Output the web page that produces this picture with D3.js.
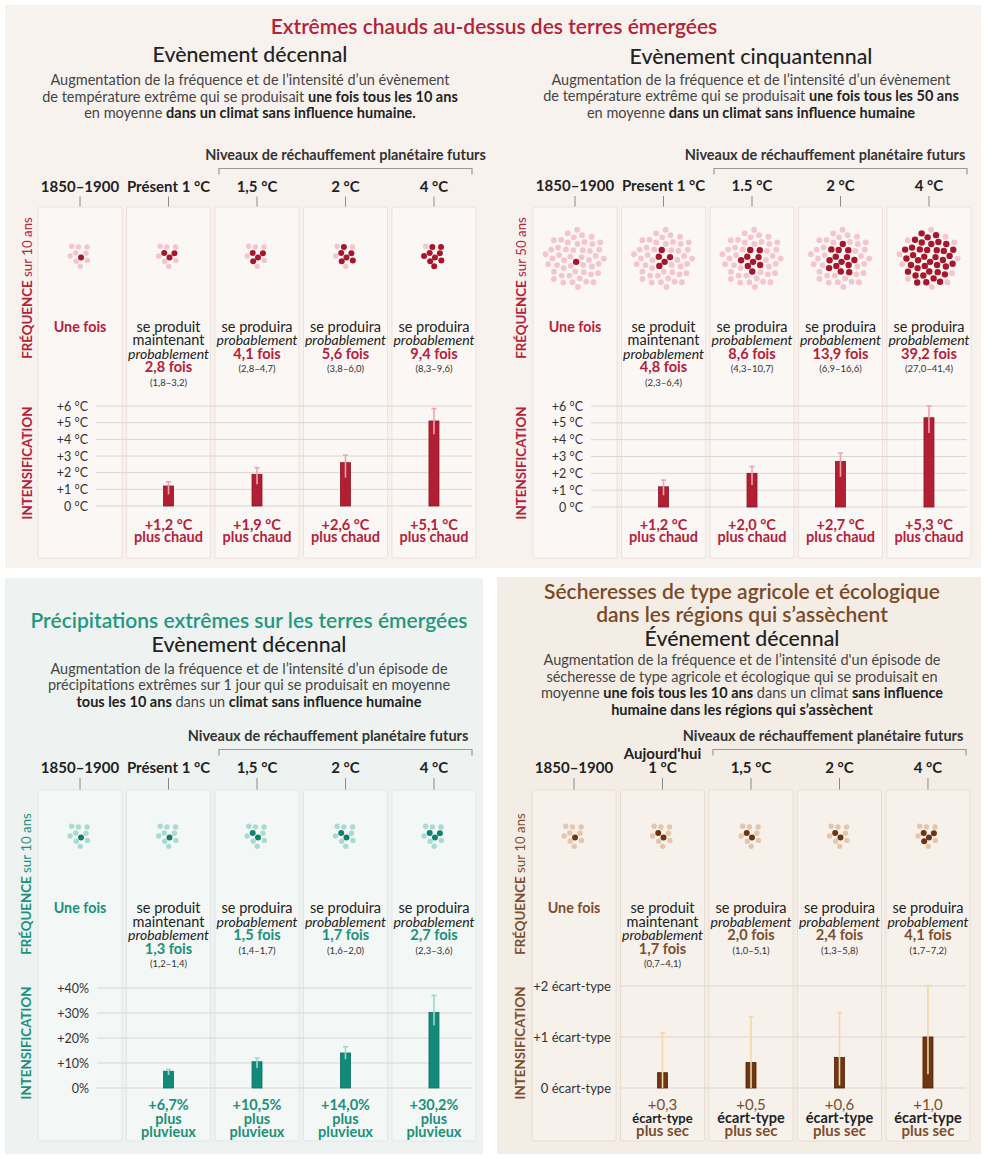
<!DOCTYPE html>
<html>
<head>
<meta charset="utf-8">
<script src="https://cdn.jsdelivr.net/npm/d3@7"></script>
<style>
  body { margin: 0; background: #fff; }
  svg { display: block; font-family: Lato, "Open Sans", sans-serif; }
</style>
</head>
<body>
<svg id="chart"></svg>
<script>
// ---- data ----
const heat10Cols = ["1850–1900", "Présent 1 °C", "1,5 °C", "2 °C", "4 °C"];
const heat50Cols = ["1850–1900", "Present 1 °C", "1.5 °C", "2 °C", "4 °C"];
const rainCols = ["1850–1900", "Présent 1 °C", "1,5 °C", "2 °C", "4 °C"];
const droughtCols = ["1850–1900", "1 °C", "1,5 °C", "2 °C", "4 °C"];

const heat10Freq = [1, 2.8, 4.1, 5.6, 9.4];
const heat10FreqLow = [null, 1.8, 2.8, 3.8, 8.3];
const heat10FreqHigh = [null, 3.2, 4.7, 6.0, 9.6];
const heat10Dark = [1, 3, 4, 6, 9];
const heat10Int = [null, 1.2, 1.9, 2.6, 5.1];
const heat10IntLow = [null, 0.7, 1.3, 1.7, 4.3];
const heat10IntHigh = [null, 1.45, 2.3, 3.05, 5.85];

const heat50Freq = [1, 4.8, 8.6, 13.9, 39.2];
const heat50FreqLow = [null, 2.3, 4.3, 6.9, 27.0];
const heat50FreqHigh = [null, 6.4, 10.7, 16.6, 41.4];
const heat50Dark = [1, 5, 9, 14, 39];
const heat50Int = [null, 1.2, 2.0, 2.7, 5.3];
const heat50IntLow = [null, 0.7, 1.3, 1.8, 4.4];
const heat50IntHigh = [null, 1.6, 2.4, 3.2, 6.0];

const rainFreq = [1, 1.3, 1.5, 1.7, 2.7];
const rainFreqLow = [null, 1.2, 1.4, 1.6, 2.3];
const rainFreqHigh = [null, 1.4, 1.7, 2.0, 3.6];
const rainDark = [1, 1, 2, 2, 3];
const rainInt = [null, 6.7, 10.5, 14.0, 30.2];
const rainIntLow = [null, 5.2, 8.0, 11.5, 25.0];
const rainIntHigh = [null, 7.4, 12.0, 16.5, 37.0];

const droughtFreq = [1, 1.7, 2.0, 2.4, 4.1];
const droughtFreqLow = [null, 0.7, 1.0, 1.3, 1.7];
const droughtFreqHigh = [null, 4.1, 5.1, 5.8, 7.2];
const droughtDark = [1, 2, 2, 2, 4];
const droughtInt = [null, 0.3, 0.5, 0.6, 1.0];
const droughtIntLow = [null, 0.0, 0.0, 0.05, 0.27];
const droughtIntHigh = [null, 1.08, 1.4, 1.48, 2.0];

const heatTicks = [0, 1, 2, 3, 4, 5, 6];
const rainTicks = [0, 10, 20, 30, 40];
const droughtTicks = [0, 1, 2];

const heat10Desc = [
  [["Augmentation de la fréquence et de  l’intensité d’un évènement", 0]],
  [["de température extrême qui se produisait ", 0], ["une fois tous les 10 ans", 1]],
  [["en moyenne ", 0], ["dans un climat sans influence humaine.", 1]]
];
const heat50Desc = [
  [["Augmentation de la fréquence et de  l’intensité d’un évènement", 0]],
  [["de température extrême qui se produisait ", 0], ["une fois tous les 50 ans", 1]],
  [["en moyenne ", 0], ["dans un climat sans influence humaine", 1]]
];
const rainDesc = [
  [["Augmentation de la fréquence et de  l’intensité d’un épisode de", 0]],
  [["précipitations extrêmes sur 1 jour qui se produisait en moyenne", 0]],
  [["tous les 10 ans", 1], [" dans un ", 0], ["climat sans influence humaine", 1]]
];
const droughtDesc = [
  [["Augmentation de la fréquence et de  l’intensité d'un épisode de", 0]],
  [["sécheresse de type agricole et écologique qui se produisait en", 0]],
  [["moyenne ", 0], ["une fois tous les 10 ans", 1], [" dans un climat ", 0], ["sans influence", 1]],
  [["humaine dans les régions qui s’assèchent", 1]]
];

// ---- helpers ----
const fmt = d => d3.format(".1f")(d).replace(".", ",");
const svg = d3.select("#chart").attr("width", 1000).attr("height", 1159);

function spiral(n, c) {
  return d3.range(n).map(i => {
    const r = c * Math.sqrt(i + 0.5), a = i * 2.39996 + 1.2;
    return [r * Math.cos(a), r * Math.sin(a)];
  });
}

// several lines in one <text>, each line a tspan at its own baseline
function stack(g, x, ys, lines) {
  const t = g.append("text").attr("text-anchor", "middle");
  lines.forEach((l, k) => {
    t.append("tspan").attr("x", x).attr("y", ys[k])
      .attr("font-size", l.s).attr("font-weight", l.w)
      .attr("font-style", l.it ? "italic" : "normal").attr("fill", l.c).text(l.t);
  });
  return t;
}

const red = { title: "#b42338", text: "#b5213a", dark: "#a8162c", light: "#f5c4cd",
  bar: "#b21f32", barStroke: "#8e1426", err: "#eba5b1", box: "#fbf7f5", boxStroke: "#efe0dc" };
const teal = { title: "#22997f", text: "#1b917b", dark: "#108070", light: "#a9dbd2",
  bar: "#128a79", barStroke: "#0d6e60", err: "#9fd6cc", box: "#f3f7f6", boxStroke: "#dfe8e5" };
const brown = { title: "#7b4a26", text: "#7d4f2c", dark: "#6b3511", light: "#e3c6ab",
  bar: "#6e3612", barStroke: "#4f2409", err: "#f1d7aa", box: "#f7f1ec", boxStroke: "#e9ddd2" };

// panel backgrounds
svg.append("rect").attr("x", 5).attr("y", 5).attr("width", 976).attr("height", 563).attr("fill", "#f8f2ef");
svg.append("rect").attr("x", 5).attr("y", 578).attr("width", 478).attr("height", 576).attr("fill", "#eef3f1");
svg.append("rect").attr("x", 497).attr("y", 577).attr("width", 484).attr("height", 577).attr("fill", "#f4ede6");

svg.append("text").attr("x", 494).attr("y", 33.5).attr("text-anchor", "middle")
  .attr("font-size", 21).attr("font-weight", 600).attr("fill", red.title)
  .text("Extrêmes chauds au-dessus des terres émergées");

function drawPanel(p) {
  const th = p.theme;
  const g = svg.append("g");
  const x = d3.scaleBand().domain(d3.range(5)).range([p.x0, p.x0 + 438]).paddingInner(0.05);
  const cx = i => x(i) + x.bandwidth() / 2;
  const y = d3.scaleLinear().domain([0, p.yMax]).range([p.y0, p.y1]);

  if (p.titles) {
    stack(g, p.cx, p.titles.map((t, k) => p.titleY + k * 23),
      p.titles.map(t => ({ t, s: 21, w: 600, c: th.title })));
  }
  g.append("text").attr("x", p.cx).attr("y", p.subY).attr("text-anchor", "middle")
    .attr("font-size", 21.3).attr("font-weight", 500).attr("fill", "#222").text(p.sub);
  const dt = g.append("text").attr("text-anchor", "middle").attr("font-size", 14.5);
  p.desc.forEach((line, k) => {
    line.forEach(([s, b], j) => {
      const ts = dt.append("tspan").attr("font-weight", b ? 700 : 400)
        .attr("fill", b ? "#222" : "#454545").text(s);
      if (j === 0) ts.attr("x", p.cx).attr("y", p.descY + k * 16.6);
    });
  });

  // future levels bracket
  g.append("text").attr("x", p.niveauX).attr("y", p.bracketY - 9).attr("text-anchor", "middle")
    .attr("font-size", 14.5).attr("font-weight", 700).attr("fill", "#333")
    .text("Niveaux de réchauffement planétaire futurs");
  g.append("path").attr("fill", "none").attr("stroke", "#9a9a9a").attr("stroke-width", 1.2)
    .attr("d", `M${p.x0 + 181},${p.bracketY + 6}V${p.bracketY}H${p.x0 + 434}V${p.bracketY + 6}`);

  // column headers
  p.cols.forEach((d, i) => {
    if (i === 1 && p.colNote) {
      stack(g, cx(i), [p.headY - 14, p.headY], [
        { t: p.colNote, s: 15, w: 700, c: "#222" }, { t: d, s: 15, w: 700, c: "#222" }]);
    } else {
      g.append("text").attr("x", cx(i)).attr("y", p.headY).attr("text-anchor", "middle")
        .attr("font-size", 15).attr("font-weight", 700).attr("fill", "#222").text(d);
    }
  });
  g.selectAll(null).data(d3.range(5)).join("line")
    .attr("x1", cx).attr("x2", cx).attr("y1", p.headY + 5).attr("y2", p.boxTop)
    .attr("stroke", "#8a8a8a").attr("stroke-width", 1);

  // column boxes
  g.selectAll(null).data(d3.range(5)).join("rect")
    .attr("x", i => x(i)).attr("y", p.boxTop).attr("width", x.bandwidth())
    .attr("height", p.boxBottom - p.boxTop).attr("rx", 2)
    .attr("fill", th.box).attr("stroke", th.boxStroke).attr("stroke-width", 1);

  // vertical labels
  const vf = g.append("text").attr("transform", `translate(${p.vertX},${p.freqLabY}) rotate(-90)`)
    .attr("text-anchor", "middle").attr("font-size", 13.3).attr("fill", th.text);
  vf.append("tspan").attr("font-weight", 700).text("FRÉQUENCE");
  vf.append("tspan").attr("font-weight", 400).text(" " + p.freqSuffix);
  g.append("text").attr("transform", `translate(${p.vertX},${p.intLabY}) rotate(-90)`)
    .attr("text-anchor", "middle").attr("font-size", 13.3).attr("font-weight", 700)
    .attr("fill", th.text).text("INTENSIFICATION");

  // dot clusters
  const pts = spiral(p.nDots, p.dotC);
  d3.range(5).forEach(i => {
    g.append("g").selectAll("circle").data(pts).join("circle")
      .attr("cx", d => cx(i) + d[0]).attr("cy", d => p.dotY + d[1])
      .attr("r", (d, j) => j < p.dark[i] ? p.dotR + 0.3 : p.dotR)
      .attr("fill", (d, j) => j < p.dark[i] ? th.dark : th.light);
  });

  // frequency texts
  const step = 13.6;
  d3.range(5).forEach(i => {
    const lines = [];
    if (i === 0) lines.push({ t: "Une fois", c: th.text, w: 700, s: 14.3 });
    else {
      if (i === 1) lines.push({ t: "se produit", c: "#222", w: 400, s: 14.5 }, { t: "maintenant", c: "#222", w: 400, s: 14.5 });
      else lines.push({ t: "se produira", c: "#222", w: 400, s: 14.5 });
      lines.push({ t: "probablement", c: "#222", w: 400, s: 14, it: true });
      lines.push({ t: fmt(p.freq[i]) + " fois", c: th.text, w: 700, s: 14.6 });
      lines.push({ t: "(" + fmt(p.freqLow[i]) + "–" + fmt(p.freqHigh[i]) + ")", c: "#333", w: 400, s: 9.5 });
    }
    stack(g, cx(i), lines.map((l, k) => p.freqY + k * step), lines);
  });

  // intensification axis + grid
  const ag = g.append("g").attr("transform", `translate(${p.axisX},0)`)
    .call(d3.axisLeft(y).tickValues(p.ticks).tickSize(0).tickPadding(0).tickFormat(p.tickFmt));
  ag.attr("font-family", null).attr("font-size", p.tickSize);
  ag.select(".domain").remove();
  ag.selectAll("text").attr("fill", "#333");
  g.append("g").selectAll("line").data(p.ticks).join("line")
    .attr("x1", p.axisX + 8).attr("x2", p.x0 + 434)
    .attr("y1", d => y(d)).attr("y2", d => y(d))
    .attr("stroke", "#ddd5d2").attr("stroke-width", 1);

  // bars
  const idx = d3.range(1, 5);
  g.append("g").selectAll("rect").data(idx).join("rect")
    .attr("x", i => cx(i) - 5).attr("width", 10)
    .attr("y", i => y(p.int[i])).attr("height", i => y(0) - y(p.int[i]))
    .attr("fill", th.bar).attr("stroke", th.barStroke).attr("stroke-width", 0.8);
  const eg = g.append("g").attr("stroke", th.err).attr("stroke-width", 1.6);
  eg.selectAll(".v").data(idx).join("line")
    .attr("x1", cx).attr("x2", cx).attr("y1", i => y(p.intLow[i])).attr("y2", i => y(p.intHigh[i]));
  eg.selectAll(".cap").data(idx).join("line")
    .attr("x1", i => cx(i) - 2.5).attr("x2", i => cx(i) + 2.5)
    .attr("y1", i => y(p.intHigh[i])).attr("y2", i => y(p.intHigh[i]));

  // value labels under bars
  idx.forEach(i => stack(g, cx(i), p.labY, p.barLabel(p.int[i], i)));
}

drawPanel({
  theme: red, x0: 38, cx: 250, sub: "Evènement décennal", subY: 62, desc: heat10Desc, descY: 85,
  niveauX: 345.5, bracketY: 168.5, headY: 191.5, cols: heat10Cols, boxTop: 207, boxBottom: 558,
  vertX: 32, freqLabY: 288, intLabY: 463, freqSuffix: "sur 10 ans",
  nDots: 10, dotC: 3.9, dotR: 2.7, dotY: 255, dark: heat10Dark,
  freq: heat10Freq, freqLow: heat10FreqLow, freqHigh: heat10FreqHigh, freqY: 331.5,
  yMax: 6, y0: 506, y1: 406, ticks: heatTicks, axisX: 88, tickSize: 12.5,
  tickFmt: d => (d > 0 ? "+" : "") + d + " °C",
  int: heat10Int, intLow: heat10IntLow, intHigh: heat10IntHigh, labY: [530, 541.7],
  barLabel: v => [{ t: "+" + fmt(v) + " °C", c: red.text, w: 700, s: 14.5 }, { t: "plus chaud", c: red.text, w: 700, s: 14.5 }]
});

drawPanel({
  theme: red, x0: 533, cx: 751, sub: "Evènement cinquantennal", subY: 63.5, desc: heat50Desc, descY: 84.5,
  niveauX: 825, bracketY: 168.5, headY: 191, cols: heat50Cols, boxTop: 207, boxBottom: 558,
  vertX: 526, freqLabY: 288, intLabY: 463, freqSuffix: "sur 50 ans",
  nDots: 50, dotC: 4.3, dotR: 2.9, dotY: 259, dark: heat50Dark,
  freq: heat50Freq, freqLow: heat50FreqLow, freqHigh: heat50FreqHigh, freqY: 331.5,
  yMax: 6, y0: 507, y1: 406, ticks: heatTicks, axisX: 583, tickSize: 12.5,
  tickFmt: d => (d > 0 ? "+" : "") + d + " °C",
  int: heat50Int, intLow: heat50IntLow, intHigh: heat50IntHigh, labY: [530, 541.7],
  barLabel: v => [{ t: "+" + fmt(v) + " °C", c: red.text, w: 700, s: 14.5 }, { t: "plus chaud", c: red.text, w: 700, s: 14.5 }]
});

drawPanel({
  theme: teal, x0: 38, cx: 249, titles: ["Précipitations extrêmes sur les terres émergées"], titleY: 628,
  sub: "Evènement décennal", subY: 652, desc: rainDesc, descY: 673.5,
  niveauX: 328, bracketY: 749.5, headY: 773, cols: rainCols, boxTop: 790, boxBottom: 1141,
  vertX: 31, freqLabY: 884, intLabY: 1043, freqSuffix: "sur 10 ans",
  nDots: 10, dotC: 3.9, dotR: 2.7, dotY: 835, dark: rainDark,
  freq: rainFreq, freqLow: rainFreqLow, freqHigh: rainFreqHigh, freqY: 913,
  yMax: 40, y0: 1088, y1: 988, ticks: rainTicks, axisX: 89, tickSize: 12.5,
  tickFmt: d => (d > 0 ? "+" : "") + d + "%",
  int: rainInt, intLow: rainIntLow, intHigh: rainIntHigh, labY: [1110, 1123.5, 1136.5],
  barLabel: v => [{ t: "+" + fmt(v) + "%", c: teal.text, w: 700, s: 14.5 },
    { t: "plus", c: teal.text, w: 700, s: 14.5 }, { t: "pluvieux", c: teal.text, w: 700, s: 14.5 }]
});

drawPanel({
  theme: brown, x0: 532, cx: 742, titles: ["Sécheresses de type agricole et écologique", "dans les régions qui s’assèchent"],
  titleY: 598.5, sub: "Événement décennal", subY: 646, desc: droughtDesc, descY: 665,
  niveauX: 823, bracketY: 749.5, headY: 773, cols: droughtCols, colNote: "Aujourd'hui",
  boxTop: 790, boxBottom: 1141,
  vertX: 525, freqLabY: 884, intLabY: 1043, freqSuffix: "sur 10 ans",
  nDots: 10, dotC: 3.9, dotR: 2.7, dotY: 835, dark: droughtDark,
  freq: droughtFreq, freqLow: droughtFreqLow, freqHigh: droughtFreqHigh, freqY: 913,
  yMax: 2, y0: 1088, y1: 986, ticks: droughtTicks, axisX: 611, tickSize: 13,
  tickFmt: d => (d > 0 ? "+" : "") + d + " écart-type",
  int: droughtInt, intLow: droughtIntLow, intHigh: droughtIntHigh, labY: [1110, 1123, 1135.5],
  barLabel: (v, i) => [{ t: "+" + fmt(v), c: brown.text, w: 400, s: 15 },
    { t: "écart-type", c: "#222", w: 700, s: i === 1 ? 13 : 14.5 }, { t: "plus sec", c: brown.text, w: 700, s: 15 }]
});
</script>
</body>
</html>
